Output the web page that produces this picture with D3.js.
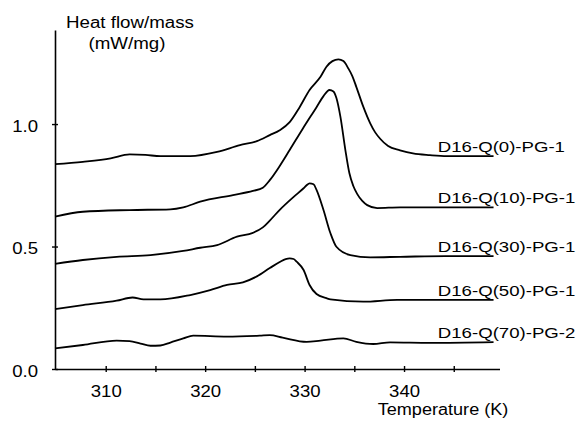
<!DOCTYPE html>
<html>
<head>
<meta charset="utf-8">
<script src="https://cdn.jsdelivr.net/npm/d3@7"></script>
<style>
  body { margin: 0; background: #fff; }
  text { font-family: "Liberation Sans", Arial, sans-serif; fill: #000; }
</style>
</head>
<body>
<div id="chart"></div>
<script>
// DSC curves: temperature (K) and heat flow/mass (mW/mg)
const seriesNames = ["D16-Q(0)-PG-1", "D16-Q(10)-PG-1", "D16-Q(30)-PG-1", "D16-Q(50)-PG-1", "D16-Q(70)-PG-2"];

const tQ0 = [304.9, 307.7, 310.5, 312.4, 314.0, 315.5, 318.5, 321.2, 323.5, 325.2, 326.5, 327.5, 328.5, 329.5, 330.5, 331.6, 332.2, 332.8, 333.4, 333.9, 334.4, 334.8, 335.2, 335.9, 336.6, 337.1, 337.6, 338.4, 339.6, 340.9, 342.6, 344.3, 349.0];
const hQ0 = [0.836, 0.846, 0.860, 0.876, 0.874, 0.869, 0.869, 0.886, 0.914, 0.930, 0.955, 0.975, 1.008, 1.069, 1.139, 1.193, 1.234, 1.257, 1.264, 1.257, 1.227, 1.196, 1.152, 1.071, 1.003, 0.966, 0.940, 0.910, 0.893, 0.880, 0.873, 0.869, 0.869];

const tQ10 = [304.9, 307.7, 312.4, 316.5, 317.8, 319.5, 322.8, 324.8, 325.8, 326.5, 327.5, 328.5, 329.8, 331.2, 331.9, 332.5, 332.9, 333.2, 333.6, 334.1, 334.5, 334.9, 335.3, 335.8, 336.3, 337.3, 339.6, 344.2, 349.0];
const hQ10 = [0.622, 0.642, 0.649, 0.652, 0.660, 0.683, 0.710, 0.727, 0.740, 0.771, 0.829, 0.894, 0.980, 1.069, 1.114, 1.139, 1.133, 1.106, 1.030, 0.894, 0.800, 0.747, 0.714, 0.686, 0.669, 0.657, 0.660, 0.660, 0.660];

const tQ30 = [304.9, 307.7, 311.1, 314.5, 317.8, 319.5, 321.2, 323.2, 324.8, 325.8, 326.5, 327.5, 328.9, 329.9, 330.2, 330.5, 330.9, 331.2, 331.9, 332.6, 333.2, 334.6, 336.6, 339.6, 344.2, 349.0];
const hQ30 = [0.429, 0.445, 0.458, 0.465, 0.482, 0.495, 0.506, 0.540, 0.556, 0.578, 0.606, 0.650, 0.703, 0.738, 0.750, 0.758, 0.754, 0.731, 0.649, 0.554, 0.499, 0.465, 0.456, 0.458, 0.461, 0.461];

const tQ50 = [304.9, 307.7, 311.1, 312.7, 313.8, 315.5, 318.5, 320.5, 322.2, 323.8, 325.2, 326.5, 327.5, 328.1, 328.5, 328.9, 329.2, 329.9, 330.5, 331.2, 332.2, 332.6, 335.9, 339.3, 344.2, 349.0];
const hQ50 = [0.244, 0.261, 0.279, 0.292, 0.284, 0.284, 0.302, 0.322, 0.343, 0.354, 0.378, 0.412, 0.437, 0.449, 0.452, 0.449, 0.438, 0.404, 0.343, 0.306, 0.289, 0.284, 0.275, 0.282, 0.282, 0.282];

const tQ70 = [304.9, 307.7, 311.1, 312.4, 313.5, 314.5, 315.5, 316.5, 317.8, 318.8, 322.2, 325.5, 326.5, 327.8, 330.2, 331.6, 333.9, 335.2, 336.9, 338.6, 342.6, 349.0];
const hQ70 = [0.084, 0.098, 0.116, 0.114, 0.104, 0.095, 0.096, 0.108, 0.125, 0.136, 0.132, 0.136, 0.138, 0.128, 0.111, 0.116, 0.125, 0.111, 0.102, 0.109, 0.107, 0.110];

const xMajorTicks = [310, 320, 330, 340];
const xMinorTicks = [315, 325, 335, 345];
const yTicks = [0.0, 0.5, 1.0];

const temps = [tQ0, tQ10, tQ30, tQ50, tQ70];
const flows = [hQ0, hQ10, hQ30, hQ50, hQ70];

const width = 581, height = 421;

const svg = d3.select("#chart").append("svg")
    .attr("width", width)
    .attr("height", height);

const x = d3.scaleLinear().domain([304.9, 349.6]).range([55, 499.5]);
const y = d3.scaleLinear().domain([0, 1.384]).range([369, 30]);

// stretch text horizontally, the scanned figure is wider than Arial
function stretch(sel, k) {
    sel.each(function() {
        const w = this.getComputedTextLength();
        d3.select(this).attr("textLength", w * k).attr("lengthAdjust", "spacingAndGlyphs");
    });
}

// x axis
const xAxis = svg.append("g")
    .attr("transform", `translate(0,${y(0)})`)
    .call(d3.axisBottom(x)
        .tickValues(xMajorTicks.concat(xMinorTicks))
        .tickFormat(d => xMajorTicks.includes(d) ? d : "")
        .tickSize(3)
        .tickSizeOuter(0));
xAxis.select(".domain").attr("stroke", "#000").attr("stroke-width", 1.6);
xAxis.selectAll(".tick line").attr("y1", -3).attr("stroke-width", 1.4);
xAxis.selectAll(".tick text")
    .attr("y", 27.5)
    .attr("dy", 0)
    .style("font-size", "16px")
    .call(stretch, 1.16);

// y axis
const yAxis = svg.append("g")
    .attr("transform", `translate(${x(304.9)},0)`)
    .call(d3.axisLeft(y)
        .tickValues(yTicks)
        .tickFormat(d3.format(".1f"))
        .tickSize(3)
        .tickSizeOuter(0));
yAxis.select(".domain").attr("stroke", "#000").attr("stroke-width", 1.6);
yAxis.selectAll(".tick line").attr("x1", 3).attr("stroke-width", 1.4);
yAxis.selectAll(".tick text")
    .attr("x", -17)
    .attr("dy", "0.45em")
    .style("font-size", "16px")
    .call(stretch, 1.16);

// axis titles
svg.append("text")
    .attr("x", 130).attr("y", 28)
    .attr("text-anchor", "middle")
    .style("font-size", "16px")
    .text("Heat flow/mass")
    .call(stretch, 1.17);

svg.append("text")
    .attr("x", 127).attr("y", 49)
    .attr("text-anchor", "middle")
    .style("font-size", "16px")
    .text("(mW/mg)")
    .call(stretch, 1.17);

svg.append("text")
    .attr("x", 443).attr("y", 415)
    .attr("text-anchor", "middle")
    .style("font-size", "16px")
    .text("Temperature (K)")
    .call(stretch, 1.13);

// curves
const line = d3.line()
    .x(d => x(d[0]))
    .y(d => y(d[1]))
    .curve(d3.curveMonotoneX);

temps.forEach((t, i) => {
    const pts = t.map((v, j) => [v, flows[i][j]]);
    svg.append("path")
        .attr("d", line(pts))
        .attr("fill", "none")
        .attr("stroke", "#000")
        .attr("stroke-width", 1.8)
        .attr("stroke-linejoin", "round");

    svg.append("text")
        .attr("x", x(343.4))
        .attr("y", y(flows[i][flows[i].length - 1]) - 4)
        .style("font-size", "15px")
        .text(seriesNames[i])
        .call(stretch, 1.24);
});
</script>
</body>
</html>
